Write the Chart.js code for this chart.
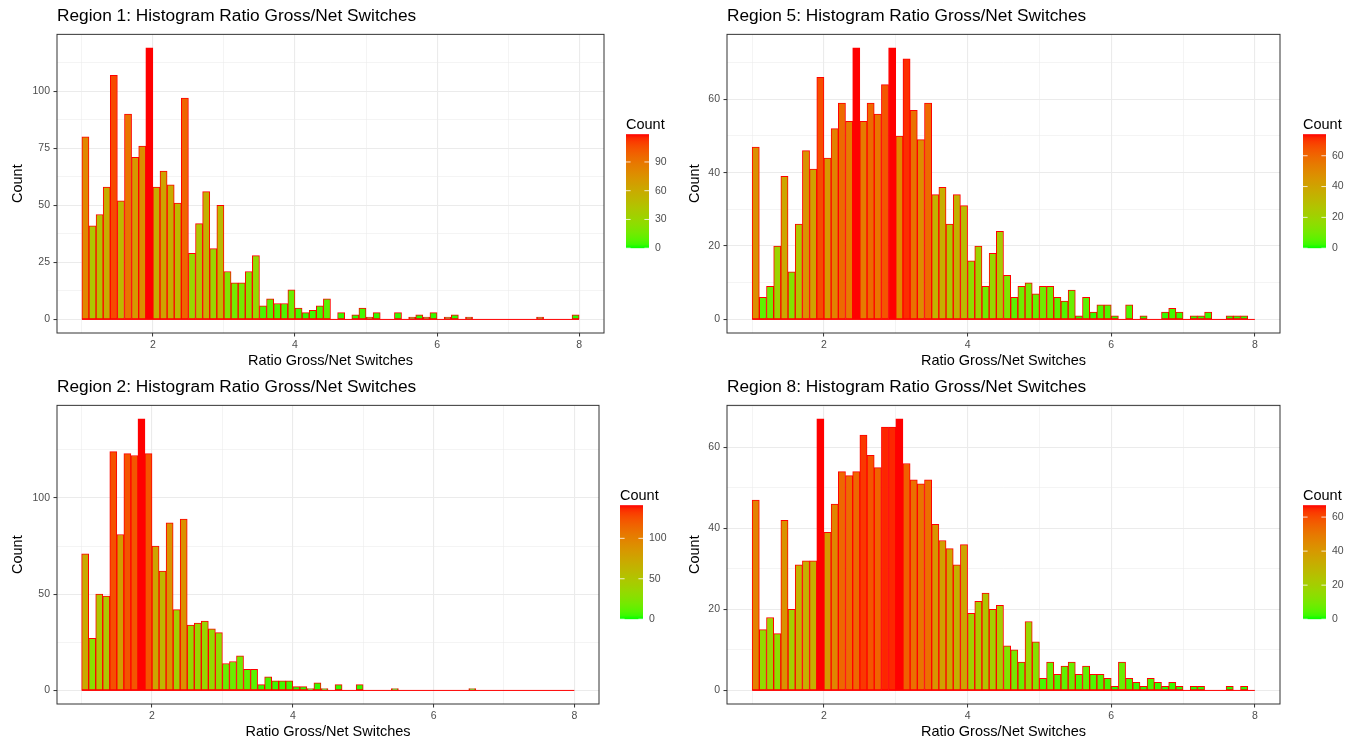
<!DOCTYPE html>
<html>
<head>
<meta charset="utf-8">
<script src="https://cdn.jsdelivr.net/npm/chart.js@4.4.1/dist/chart.umd.min.js"></script>
<style>
html,body{margin:0;padding:0;background:#fff;}
body{width:1359px;height:744px;position:relative;overflow:hidden;}
canvas{position:absolute;}
</style>
</head>
<body>
<canvas id="r1" width="679" height="372" style="left:0;top:0"></canvas>
<canvas id="r5" width="679" height="372" style="left:680px;top:0"></canvas>
<canvas id="r2" width="679" height="372" style="left:0;top:371px"></canvas>
<canvas id="r8" width="679" height="372" style="left:680px;top:371px"></canvas>
<script>
// histogram bins (left edges, width 0.1)
const binLeft = [1.0,1.1,1.2,1.3,1.4,1.5,1.6,1.7,1.8,1.9,2.0,2.1,2.2,2.3,2.4,2.5,2.6,2.7,2.8,2.9,3.0,3.1,3.2,3.3,3.4,3.5,3.6,3.7,3.8,3.9,4.0,4.1,4.2,4.3,4.4,4.5,4.6,4.7,4.8,4.9,5.0,5.1,5.2,5.3,5.4,5.5,5.6,5.7,5.8,5.9,6.0,6.1,6.2,6.3,6.4,6.5,6.6,6.7,6.8,6.9,7.0,7.1,7.2,7.3,7.4,7.5,7.6,7.7,7.8,7.9];
const binWidth = 0.1;

// counts per bin
const region1 = [80,41,46,58,107,52,90,71,76,119,58,65,59,51,97,29,42,56,31,50,21,16,16,21,28,6,9,7,7,13,5,3,4,6,9,0,3,0,2,5,1,3,0,0,3,0,1,2,1,3,0,1,2,0,1,0,0,0,0,0,0,0,0,0,1,0,0,0,0,2];
const region2 = [71,27,50,49,124,81,123,122,141,123,75,62,87,42,89,34,35,36,32,30,14,15,18,11,11,3,7,5,5,5,2,2,1,4,1,0,3,0,0,3,0,0,0,0,1,0,0,0,0,0,0,0,0,0,0,1,0,0,0,0,0,0,0,0,0,0,0,0,0,0];
const region5 = [47,6,9,20,39,13,26,46,41,66,44,52,59,54,74,54,59,56,64,74,50,71,57,49,59,34,36,26,34,31,16,20,9,18,24,12,6,9,10,7,9,9,6,5,8,1,6,2,4,4,1,0,4,0,1,0,0,2,3,2,0,1,1,2,0,0,1,1,1,0];
const region8 = [47,15,18,14,42,20,31,32,32,67,39,46,54,53,54,63,58,55,65,65,67,56,52,51,52,41,37,35,31,36,19,22,24,20,21,11,10,7,17,12,3,7,4,6,7,4,6,4,4,3,1,7,3,2,1,3,2,1,2,1,0,1,1,0,0,0,1,0,1,0];

// tick labels
const xMajor = [2,4,6,8];
const xMinor = [1,3,5,7];
const yMajor1 = [0,25,50,75,100];
const yMajor2 = [0,50,100];
const yMajor5 = [0,20,40,60];
const yMajor8 = [0,20,40,60];
const legend1 = [0,30,60,90];
const legend2 = [0,50,100];
const legend5 = [0,20,40,60];
const legend8 = [0,20,40,60];

const FONT = '"Liberation Sans", Arial, sans-serif';
Chart.defaults.font.family = FONT;

// green -> red ramp interpolated in CIELAB (like ggplot's gradient)
const WX = 0.95047, WZ = 1.08883;
function lin(c){ return c <= 0.04045 ? c/12.92 : Math.pow((c+0.055)/1.055, 2.4); }
function gam(c){ c = Math.min(1, Math.max(0, c)); return c <= 0.0031308 ? 12.92*c : 1.055*Math.pow(c, 1/2.4) - 0.055; }
function toLab(h){
  const [r,g,b] = [1,3,5].map(i => lin(parseInt(h.substr(i,2),16)/255));
  const X = (0.4124*r+0.3576*g+0.1805*b)/WX, Y = 0.2126*r+0.7152*g+0.0722*b, Z = (0.0193*r+0.1192*g+0.9505*b)/WZ;
  const f = t => t > 0.008856 ? Math.cbrt(t) : 7.787*t+16/116;
  return [116*f(Y)-16, 500*(f(X)-f(Y)), 200*(f(Y)-f(Z))];
}
function fromLab(L,a,b){
  const fy = (L+16)/116, fx = fy+a/500, fz = fy-b/200;
  const inv = t => t*t*t > 0.008856 ? t*t*t : (t-16/116)/7.787;
  const X = inv(fx)*WX, Y = inv(fy), Z = inv(fz)*WZ;
  const r = 3.2406*X-1.5372*Y-0.4986*Z, g = -0.9689*X+1.8758*Y+0.0415*Z, bb = 0.0557*X-0.2040*Y+1.0570*Z;
  return 'rgb(' + [r,g,bb].map(c => Math.round(gam(c)*255)).join(',') + ')';
}
const LOW = toLab('#00FF00'), HIGH = toLab('#FF0000');
function ramp(t){ return fromLab(...LOW.map((v,i) => v + (HIGH[i]-v)*t)); }

// panel border + colourbar legend
const panelDecor = {
  id: 'panelDecor',
  afterDraw(chart, args, o){
    const {ctx, chartArea: a} = chart;
    ctx.save();
    ctx.strokeStyle = '#333';
    ctx.lineWidth = 1;
    ctx.strokeRect(a.left, a.top, a.right - a.left, a.bottom - a.top);

    const bw = 23, bh = 114;
    const bx = a.right + o.gap;
    const by = (a.top + a.bottom)/2 + 7.5 - bh/2;
    const g = ctx.createLinearGradient(0, by + bh, 0, by);
    for (let i = 0; i <= 30; i++) g.addColorStop(i/30, ramp(i/30));
    ctx.fillStyle = g;
    ctx.fillRect(bx, by, bw, bh);

    ctx.fillStyle = '#000';
    ctx.font = '14.5px ' + FONT;
    ctx.textAlign = 'left';
    ctx.textBaseline = 'alphabetic';
    ctx.fillText('Count', bx, by - 5);

    ctx.font = '10.5px ' + FONT;
    ctx.fillStyle = '#4D4D4D';
    ctx.textBaseline = 'middle';
    ctx.strokeStyle = 'rgba(255,255,255,0.8)';
    ctx.lineWidth = 1;
    o.ticks.forEach(v => {
      const y = by + bh - v/o.max*bh;
      ctx.beginPath();
      ctx.moveTo(bx, y); ctx.lineTo(bx + bw/5, y);
      ctx.moveTo(bx + bw, y); ctx.lineTo(bx + bw - bw/5, y);
      ctx.stroke();
      ctx.fillText(String(v), bx + bw + 6, y);
    });
    ctx.restore();
  }
};

function makeChart(id, title, counts, yMajor, legendTicks, lay){
  const max = Math.max(...counts);
  const yLo = -0.05*max, yHi = 1.05*max;
  const step = yMajor[1] - yMajor[0];
  const yGrid = [];
  yMajor.forEach(v => { yGrid.push(v); if (v + step/2 < yHi) yGrid.push(v + step/2); });
  const x0 = binLeft[0], x1 = binLeft[binLeft.length-1] + binWidth;
  const xPad = 0.05*(x1 - x0);
  const xGrid = xMajor.concat(xMinor).sort((p,q) => p-q);

  const isMajorX = v => xMajor.includes(v);
  const isMajorY = v => yMajor.includes(v);

  new Chart(document.getElementById(id), {
    type: 'bar',
    data: {
      datasets: [{
        type: 'bar',
        data: counts.map((c,i) => ({x: binLeft[i] + binWidth/2, y: c})),
        backgroundColor: counts.map(c => ramp(c/max)),
        borderColor: '#FF0000',
        borderWidth: 1,
        borderSkipped: false,
        barPercentage: 1,
        categoryPercentage: 1
      },{
        type: 'line',
        data: [{x: x0, y: 0}, {x: x1, y: 0}],
        borderColor: '#FF0000',
        borderWidth: 1,
        pointRadius: 0
      }]
    },
    options: {
      responsive: false,
      animation: false,
      events: [],
      layout: {padding: {left: 0, right: lay.padRight, top: 0, bottom: 0}},
      plugins: {
        legend: {display: false},
        tooltip: {enabled: false},
        title: {
          display: true, text: title, align: 'start', fullSize: false,
          color: '#000', font: {size: 17.3, weight: 'normal'},
          padding: {top: 6, bottom: 7.6}
        },
        panelDecor: {gap: lay.gap, ticks: legendTicks, max: max}
      },
      scales: {
        x: {
          type: 'linear', min: x0 - xPad, max: x1 + xPad, offset: false, bounds: 'data',
          afterBuildTicks: ax => { ax.ticks = xGrid.map(v => ({value: v})); },
          afterFit: ax => { ax.height = 39; },
          border: {display: false},
          grid: {
            offset: false, color: '#EBEBEB',
            lineWidth: c => isMajorX(c.tick.value) ? 1.1 : 0.55,
            tickColor: c => isMajorX(c.tick.value) ? '#333' : 'rgba(0,0,0,0)',
            tickLength: 3.5, tickWidth: 1
          },
          ticks: {
            autoSkip: false, maxRotation: 0, padding: 2, color: '#4D4D4D',
            font: {size: 10.5},
            callback: v => isMajorX(v) ? String(v) : ''
          },
          title: {display: true, text: 'Ratio Gross/Net Switches', color: '#000',
                  font: {size: 14.5}, padding: {top: 0, bottom: 2.6}}
        },
        y: {
          type: 'linear', min: yLo, max: yHi, bounds: 'data',
          afterBuildTicks: ax => { ax.ticks = yGrid.map(v => ({value: v})); },
          afterFit: ax => { ax.width = lay.yWidth; },
          border: {display: false},
          grid: {
            color: '#EBEBEB',
            lineWidth: c => isMajorY(c.tick.value) ? 1.1 : 0.55,
            tickColor: c => isMajorY(c.tick.value) ? '#333' : 'rgba(0,0,0,0)',
            tickLength: 3.5, tickWidth: 1
          },
          ticks: {
            autoSkip: false, padding: 3.5, color: '#4D4D4D',
            font: {size: 10.5},
            callback: v => isMajorY(v) ? String(v) : ''
          },
          title: {display: true, text: 'Count', color: '#000',
                  font: {size: 14.5}, padding: {top: lay.yTitlePad, bottom: 0}}
        }
      }
    },
    plugins: [panelDecor]
  });
}

makeChart('r1', 'Region 1: Histogram Ratio Gross/Net Switches', region1, yMajor1, legend1,
  {yWidth: 57, padRight: 75, gap: 22, yTitlePad: 9.3});
makeChart('r2', 'Region 2: Histogram Ratio Gross/Net Switches', region2, yMajor2, legend2,
  {yWidth: 57, padRight: 80, gap: 21, yTitlePad: 9.3});
makeChart('r5', 'Region 5: Histogram Ratio Gross/Net Switches', region5, yMajor5, legend5,
  {yWidth: 47, padRight: 79, gap: 23, yTitlePad: 6.3});
makeChart('r8', 'Region 8: Histogram Ratio Gross/Net Switches', region8, yMajor8, legend8,
  {yWidth: 47, padRight: 79, gap: 23, yTitlePad: 6.3});
</script>
</body>
</html>
